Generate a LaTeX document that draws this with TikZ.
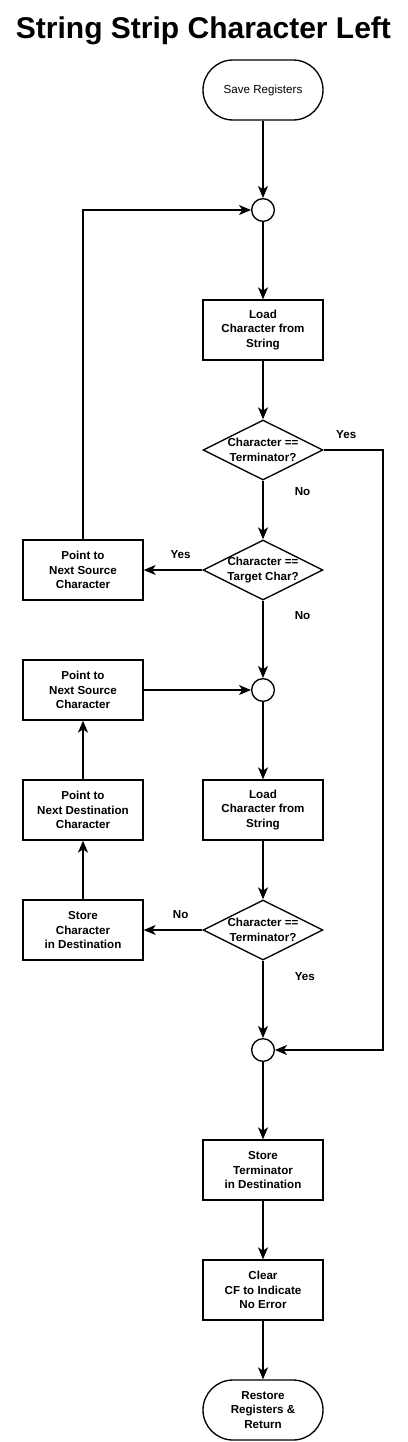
\documentclass[tikz,border=0pt]{standalone}
\usepackage{fontspec}
\setmainfont{Liberation Sans}
\usetikzlibrary{shapes.geometric, arrows.meta, positioning}

\begin{document}
\begin{tikzpicture} [node distance = 90pt, on grid, line width = 1pt,
    txt/.style = {font = \fontsize{8.7}{10.9}\selectfont\bfseries},
    term/.style = {draw, rectangle, rounded corners = 22.5pt, minimum width = 90pt, minimum height = 45pt, align = center, txt},
    proc/.style = {draw, rectangle, minimum width = 90pt, minimum height = 45pt, align = center, txt},
    dec/.style = {draw, diamond, inner sep = 0pt, minimum width = 90pt, minimum height = 45pt,
        label = {[align = center, txt]center:{#1}}},
    joint/.style = {draw, circle, inner sep = 0pt, minimum size = 17pt},
    lbl/.style = {txt},
    arr/.style = {-{Stealth[length = 9pt, width = 7.5pt, inset = 2.5pt]}}]
\useasboundingbox (0pt, 0pt) rectangle (305.25pt, -1081.5pt);
\node (title) at (152.6pt, -23pt) {\fontsize{22.5}{27}\selectfont\bfseries String Strip Character Left};
\node (save) [term, font = \fontsize{8.7}{10.9}\selectfont] at (197.25pt, -67.5pt) {Save Registers};
\node (j1) [joint, below = of save] {};
\node (ld1) [proc, below = of j1] {Load\\Character from\\String};
\node (d1) [dec = {Character ==\\Terminator?}, below = of ld1] {};
\node (d2) [dec = {Character ==\\Target Char?}, below = of d1] {};
\node (src1) [proc, left = 135pt of d2] {Point to\\Next Source\\Character};
\node (j2) [joint, below = of d2] {};
\node (src2) [proc, left = 135pt of j2] {Point to\\Next Source\\Character};
\node (ld2) [proc, below = of j2] {Load\\Character from\\String};
\node (dst) [proc, left = 135pt of ld2] {Point to\\Next Destination\\Character};
\node (d3) [dec = {Character ==\\Terminator?}, below = of ld2] {};
\node (stc) [proc, left = 135pt of d3] {Store\\Character\\in Destination};
\node (j3) [joint, below = of d3] {};
\node (stt) [proc, below = of j3] {Store\\Terminator\\in Destination};
\node (clr) [proc, below = of stt] {Clear\\CF to Indicate\\No Error};
\node (rest) [term, below = of clr] {Restore\\Registers \&\\Return};
\coordinate [right = 90pt of d1] (rt);
\path [arr]
    (save) edge (j1)
    (j1) edge (ld1)
    (ld1) edge (d1)
    (d1) edge node [lbl, pos = 0.19, right = 20pt] {No} (d2)
    (d2) edge node [lbl, pos = 0.37, above = 5pt] {Yes} (src1)
    (d2) edge node [lbl, pos = 0.19, right = 20pt] {No} (j2)
    (src2) edge (j2)
    (j2) edge (ld2)
    (ld2) edge (d3)
    (d3) edge node [lbl, pos = 0.37, above = 5pt] {No} (stc)
    (stc) edge (dst)
    (dst) edge (src2)
    (d3) edge node [lbl, pos = 0.21, right = 20pt] {Yes} (j3)
    (j3) edge (stt)
    (stt) edge (clr)
    (clr) edge (rest);
\draw [arr] (src1) |- (j1);
\draw [arr] (d1.east) -- (rt) node [lbl, pos = 0.38, above = 5pt] {Yes} |- (j3);
\end{tikzpicture}
\end{document}
